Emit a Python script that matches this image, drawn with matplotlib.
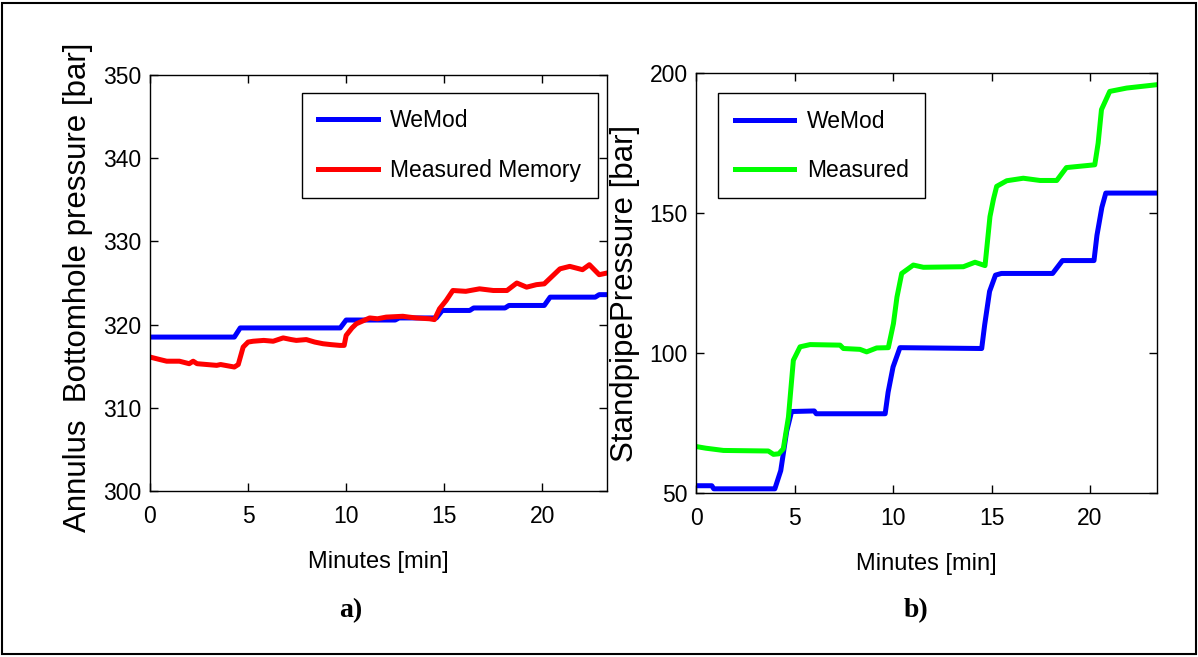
import matplotlib
matplotlib.use("Agg")
import matplotlib.pyplot as plt
from matplotlib.patches import Rectangle

# a) annulus bottomhole pressure
t_bhp_wemod = [0, 4.3, 4.6, 9.7, 10.0, 12.5, 12.7, 14.6, 14.9, 16.3, 16.5, 18.1,
               18.3, 20.1, 20.4, 22.7, 22.9, 23.3]
bhp_wemod = [318.5, 318.5, 319.6, 319.6, 320.55, 320.55, 320.8, 320.8, 321.7, 321.7,
             322.0, 322.0, 322.3, 322.3, 323.3, 323.3, 323.6, 323.6]

t_bhp_meas = [0, 0.5, 0.85, 1.5, 2.0, 2.2, 2.4, 3.4, 3.6, 4.3, 4.5, 4.75, 5.0, 5.26,
              5.8, 6.28, 6.79, 7.2, 7.46, 7.97, 8.4, 8.82, 9.2, 9.67, 9.9, 10.0, 10.3,
              10.52, 11.2, 11.6, 12.04, 12.89, 13.2, 13.57, 14.25, 14.5, 14.76, 15.1,
              15.44, 16.1, 16.8, 17.5, 18.2, 18.7, 19.2, 19.7, 20.1, 20.5, 20.9, 21.4,
              22.05, 22.4, 22.9, 23.3]
bhp_meas = [316.1, 315.8, 315.6, 315.6, 315.3, 315.6, 315.3, 315.1, 315.2, 314.9,
            315.2, 317.3, 317.9, 318.0, 318.1, 318.0, 318.4, 318.2, 318.1, 318.2,
            317.9, 317.7, 317.6, 317.5, 317.5, 318.7, 319.6, 320.1, 320.8, 320.7,
            320.9, 321.0, 320.9, 320.8, 320.7, 320.6, 321.9, 322.9, 324.1, 324.0,
            324.3, 324.1, 324.1, 325.0, 324.5, 324.8, 324.9, 325.8, 326.7, 327.0,
            326.6, 327.2, 326.0, 326.2]

# b) standpipe pressure
t_spp_wemod = [0, 0.8, 0.9, 4.0, 4.3, 4.6, 4.85, 6.0, 6.1, 9.6, 9.75, 10.0, 10.35,
               14.5, 14.65, 14.9, 15.2, 15.5, 18.1, 18.6, 20.2, 20.35, 20.6, 20.8, 23.4]
spp_wemod = [52.6, 52.6, 51.5, 51.5, 58.0, 72.0, 79.1, 79.3, 78.3, 78.3, 86.0, 95.0,
             101.9, 101.6, 110.0, 122.0, 127.8, 128.4, 128.4, 133.0, 133.0, 142.0,
             152.0, 157.1, 157.1]

t_spp_meas = [0, 0.5, 1.39, 3.67, 3.93, 4.2, 4.43, 4.69, 4.94, 5.28, 5.79, 7.31, 7.48,
              8.32, 8.66, 9.17, 9.76, 10.02, 10.2, 10.44, 11.03, 11.54, 13.57, 14.16,
              14.67, 14.92, 15.1, 15.26, 15.77, 16.61, 17.46, 18.31, 18.8, 20.24,
              20.41, 20.58, 21.0, 21.86, 23.4]
spp_meas = [66.6, 66.0, 65.2, 65.0, 63.8, 64.0, 65.8, 77.1, 97.4, 102.2, 103.0, 102.8,
            101.6, 101.3, 100.4, 101.8, 101.9, 110.5, 120.0, 128.4, 131.4, 130.6,
            130.8, 132.4, 131.2, 148.7, 155.0, 159.5, 161.5, 162.4, 161.6, 161.6,
            166.2, 167.2, 174.9, 186.9, 193.4, 194.6, 195.8]

SANS = ["Liberation Sans", "DejaVu Sans"]

fig = plt.figure(figsize=(11.98, 6.57), dpi=100)
fig.patches.append(Rectangle((0.002, 0.004), 0.996, 0.991, transform=fig.transFigure,
                             fill=False, edgecolor="black", linewidth=1.5))

ax1 = fig.add_axes([0.1252, 0.2527, 0.3815, 0.6331])
ax2 = fig.add_axes([0.5810, 0.2496, 0.3848, 0.6394])


def style_axes(ax, xlim, ylim, yticks, ylabel, ylab_x, ylab_y):
    ax.set_xlim(*xlim)
    ax.set_ylim(*ylim)
    ax.set_xticks([0, 5, 10, 15, 20])
    ax.set_yticks(yticks)
    ax.tick_params(direction="in", length=6, width=1, top=True, right=True,
                   labelsize=16.5)
    ax.tick_params(axis="x", pad=10)
    ax.tick_params(axis="y", pad=6)
    for lab in ax.get_xticklabels() + ax.get_yticklabels():
        lab.set_family(SANS)
    for sp in ax.spines.values():
        sp.set_linewidth(1.0)
    ax.set_xlabel("Minutes [min]", fontsize=17, family=SANS)
    ax.xaxis.set_label_coords(0.5, -0.17)
    ax.xaxis.label.set_va("center")
    ax.set_ylabel(ylabel, fontsize=22.5, family=SANS)
    ax.yaxis.set_label_coords(ylab_x, ylab_y)
    ax.yaxis.label.set_va("center")


def add_legend(ax, loc, anchor):
    leg = ax.legend(loc=loc, bbox_to_anchor=anchor, borderaxespad=0,
                    prop={"family": SANS, "size": 16.5}, handlelength=2.6,
                    handletextpad=0.55, labelspacing=1.15, borderpad=0.72,
                    fancybox=False, edgecolor="black", framealpha=1)
    leg.get_frame().set_linewidth(1.0)
    return leg


ax1.plot(t_bhp_wemod, bhp_wemod, color=(0, 0, 1), lw=3.6, label="WeMod")
ax1.plot(t_bhp_meas, bhp_meas, color=(1, 0, 0), lw=3.6, label="Measured Memory")
style_axes(ax1, (0, 23.3), (300, 350), [300, 310, 320, 330, 340, 350],
           "Annulus  Bottomhole pressure [bar]", -0.158, 0.49)
add_legend(ax1, "upper right", (0.980, 0.957))

ax2.plot(t_spp_wemod, spp_wemod, color=(0, 0, 1), lw=3.6, label="WeMod")
ax2.plot(t_spp_meas, spp_meas, color=(0, 1, 0), lw=3.6, label="Measured")
style_axes(ax2, (0, 23.4), (50, 200), [50, 100, 150, 200],
           "StandpipePressure [bar]", -0.154, 0.475)
add_legend(ax2, "upper left", (0.048, 0.952))

fig.text(351 / 1198, 1 - 611 / 657, "a)", ha="center", va="center", fontsize=20,
         fontweight="bold", family=["Liberation Serif", "DejaVu Serif"])
fig.text(916 / 1198, 1 - 611 / 657, "b)", ha="center", va="center", fontsize=20,
         fontweight="bold", family=["Liberation Serif", "DejaVu Serif"])

fig.savefig("out.png", dpi=100)
